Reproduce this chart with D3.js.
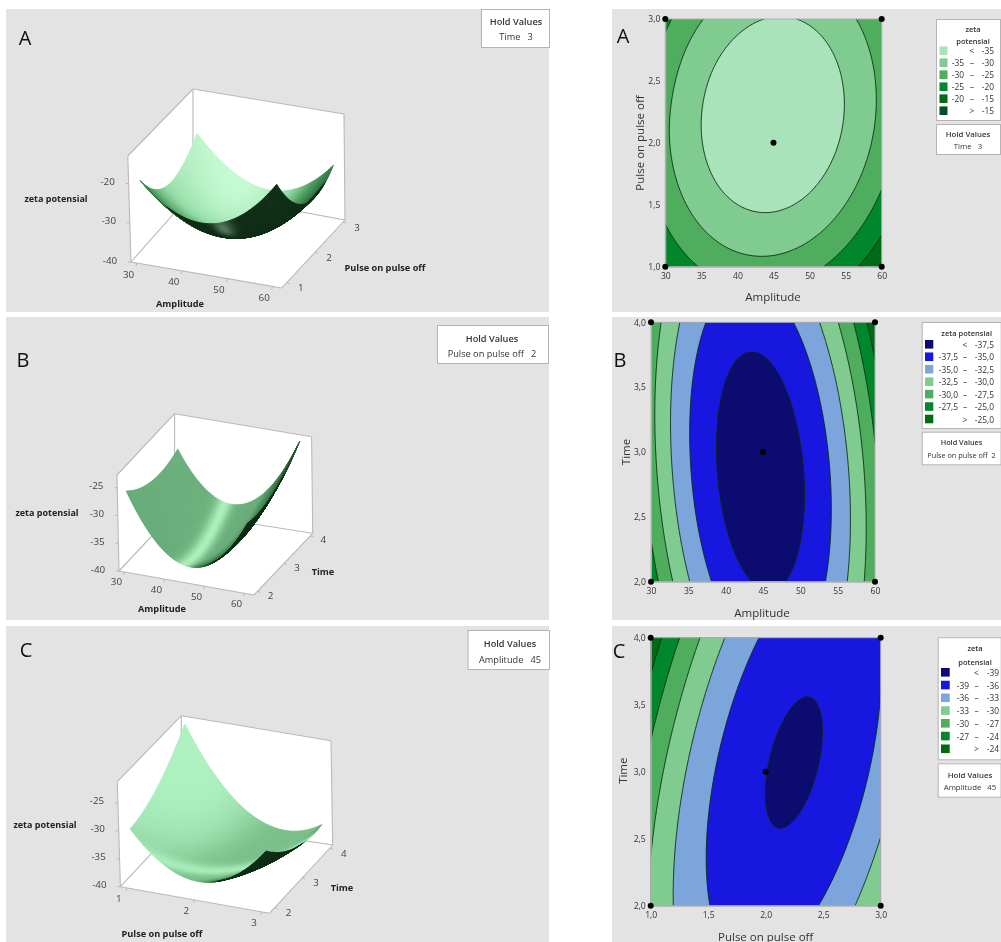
<!DOCTYPE html>
<html><head><meta charset="utf-8">
<script src="https://cdn.jsdelivr.net/npm/d3@7"></script>
<style>
html,body{margin:0;padding:0;background:#fff}
svg{display:block;filter:blur(.35px)}
text{font-family:"Open Sans",sans-serif}
</style></head><body><svg id="c" width="1001" height="942"></svg>
<script>
// ---------- values ----------
// rows: second factor ascending; columns: first factor ascending
const amplitudeGrid = [30, 37.5, 45, 52.5, 60];
const pulseGrid = [1, 1.5, 2, 2.5, 3];
const timeGrid = [2, 2.5, 3, 3.5, 4];
const zetaA = [
  [-20.30, -26.98, -28.40, -24.52, -15.36],
  [-26.55, -33.76, -35.65, -32.24, -23.54],
  [-29.17, -36.84, -39.20, -36.26, -28.04],
  [-28.08, -36.22, -39.05, -36.58, -28.82],
  [-23.80, -31.90, -35.20, -33.20, -25.91]];
const zetaB = [
  [-26.07, -34.54, -37.71, -35.58, -28.15],
  [-28.10, -36.13, -38.85, -36.27, -28.40],
  [-29.16, -36.74, -39.02, -36.00, -27.68],
  [-29.26, -36.40, -38.23, -34.76, -26.00],
  [-28.39, -35.08, -36.47, -32.56, -23.35]];
const zetaC = [
  [-30.39, -35.89, -37.66, -35.70, -30.01],
  [-29.72, -36.12, -38.79, -37.73, -32.94],
  [-28.09, -35.39, -38.96, -38.80, -34.91],
  [-25.50, -33.70, -38.17, -38.91, -35.92],
  [-21.96, -31.06, -36.43, -38.07, -35.98]];
const levelsA = [-35, -30, -25, -20, -15];
const levelsB = [-37.5, -35, -32.5, -30, -27.5, -25];
const levelsC = [-39, -36, -33, -30, -27, -24];
const coloursA = ["#a8e3b9", "#80cb90", "#4fae5e", "#00872b", "#006a14", "#064f22"];
const coloursB = ["#0c0c70", "#1717e0", "#7ba5db", "#80cb90", "#4fae5e", "#00872b", "#006a14"];
const coloursC = coloursB;
const designA = [[30, 1], [30, 3], [60, 1], [60, 3], [45, 2]];
const designB = [[30, 2], [30, 4], [60, 2], [60, 4], [45, 3]];
const designC = [[1, 2], [1, 4], [3, 2], [3, 4], [2, 3]];
const amplitudeTicks3D = [30, 40, 50, 60];
const pulseTicks3D = [1, 2, 3];
const timeTicks3D = [2, 3, 4];
const zTicksA = [-40, -30, -20];
const zTicksBC = [-40, -35, -30, -25];
const amplitudeTicks2D = [30, 35, 40, 45, 50, 55, 60];
const pulseTicksX = [1, 1.5, 2, 2.5, 3];
const pulseTicksY = [1, 1.5, 2, 2.5, 3];
const timeTicks2D = [2, 2.5, 3, 3.5, 4];

// ---------- helpers ----------
const svg = d3.select("#c");
const comma = d3.formatLocale({decimal: ",", thousands: ".", grouping: [3], currency: ["", ""], minus: "-"});
const f1 = comma.format(".1f");
const rgb = "#e3e3e3";
[[6, 9, 543, 303], [6, 317, 543, 303], [6, 626, 543, 316],
 [612, 9, 389, 303], [612, 317, 389, 303], [612, 626, 389, 316]]
  .forEach(([x, y, w, h]) => svg.append("rect").attr("x", x).attr("y", y).attr("width", w).attr("height", h).attr("fill", rgb));

function refine(grid, n) { // smooth resampling of the read table
  const cr = (p, t) => {
    const m = p.length - 1, s = t * m, i = Math.min(m - 1, Math.floor(s)), u = s - i;
    const g = k => k < 0 ? 3 * p[0] - 3 * p[1] + p[2] : k > m ? 3 * p[m] - 3 * p[m - 1] + p[m - 2] : p[k];
    const a = g(i - 1), b = g(i), c = g(i + 1), d = g(i + 2);
    return 0.5 * (2 * b + (c - a) * u + (2 * a - 5 * b + 4 * c - d) * u * u + (3 * b - a - 3 * c + d) * u * u * u);
  };
  const out = [];
  for (let j = 0; j < n; j++) {
    const tv = j / (n - 1);
    const col = grid[0].map((_, c) => cr(grid.map(r => r[c]), tv));
    const row = [];
    for (let i = 0; i < n; i++) row.push(cr(col, i / (n - 1)));
    out.push(row);
  }
  return out;
}
const label = (t, x, y, o = {}) => svg.append("text").text(t).attr("x", x).attr("y", y)
  .attr("text-anchor", o.anchor || "middle").attr("dominant-baseline", "central")
  .attr("font-size", o.size || 9).attr("font-weight", o.weight || 400)
  .attr("fill", o.fill || "#333").attr("transform", o.rot ? `rotate(${o.rot} ${x} ${y})` : null)
  .attr("xml:space", "preserve");
const box = (x, y, w, h) => svg.append("rect").attr("x", x + .5).attr("y", y + .5).attr("width", w).attr("height", h)
  .attr("fill", "#fff").attr("stroke", "#b4b4b4");

// ---------- 3D surface ----------
function surface(cfg) {
  const b = cfg.box;
  b.FRT = [b.FRB[0] + b.BRT[0] - b.BRB[0], b.FRB[1] + b.BRT[1] - b.BRB[1]];
  const lerp = (p, q, t) => [p[0] + (q[0] - p[0]) * t, p[1] + (q[1] - p[1]) * t];
  const project = (fx, fy, fz) => {
    const bot = lerp(lerp(b.FLB, b.FRB, fx), lerp(b.BLB, b.BRB, fx), fy);
    const top = lerp(lerp(b.FLT, b.FRT, fx), lerp(b.BLT, b.BRT, fx), fy);
    return lerp(bot, top, fz);
  };
  const sx = d3.scaleLinear().domain(d3.extent(cfg.xs)).range(cfg.fx);
  const sy = d3.scaleLinear().domain(d3.extent(cfg.ys)).range(cfg.fy);
  const sz = d3.scaleLinear().domain(cfg.zDomain).range([0, 1]);
  const g = svg.append("g");
  const walls = [["BLB", "BRB", "BRT", "BLT"], ["FLB", "FLT", "BLT", "BLB"], ["FLB", "FRB", "BRB", "BLB"]];
  g.selectAll("polygon").data(walls).join("polygon")
    .attr("points", d => d.map(k => b[k].join(",")).join(" ")).attr("fill", "#fff");
  const edges = [["FLB", "FLT"], ["FLT", "BLT"], ["BLT", "BRT"], ["BRT", "BRB"], ["BLT", "BLB"],
                 ["FLB", "FRB"], ["FRB", "BRB"], ["FLB", "BLB"], ["BLB", "BRB"]];
  g.selectAll("line").data(edges).join("line")
    .attr("x1", d => b[d[0]][0]).attr("y1", d => b[d[0]][1]).attr("x2", d => b[d[1]][0]).attr("y2", d => b[d[1]][1])
    .attr("stroke", "#b9b9b9").attr("stroke-width", 1.1);

  const n = 64, z = refine(cfg.grid, n);
  const X = [b.FRB[0] - b.FLB[0], b.FRB[1] - b.FLB[1]], Y = [b.BLB[0] - b.FLB[0], b.BLB[1] - b.FLB[1]],
        Z = [b.FLT[0] - b.FLB[0], b.FLT[1] - b.FLB[1]];
  // view direction: the direction in box space that projects to a point
  let v = [Y[0] * Z[1] - Z[0] * Y[1], Z[0] * X[1] - X[0] * Z[1], X[0] * Y[1] - Y[0] * X[1]];
  if (v[2] < 0) v = v.map(d => -d);
  const norm = a => { const l = Math.hypot(...a); return a.map(d => d / l); };
  v = norm(v);
  v[0] += cfg.vx || 0;
  v = norm(v);
  const xv = i => cfg.xs[0] + (cfg.xs[cfg.xs.length - 1] - cfg.xs[0]) * i / (n - 1);
  const yv = j => cfg.ys[0] + (cfg.ys[cfg.ys.length - 1] - cfg.ys[0]) * j / (n - 1);
  const dX = sx(xv(1)) - sx(xv(0)), dY = sy(yv(1)) - sy(yv(0));
  const ramp = d3.scaleLinear().domain(cfg.ramp.map(d => d[0])).range(cfg.ramp.map(d => d[1])).clamp(true);
  const underCol = "#102c15";
  const mk = l => l.axis === undefined
    ? {dir: norm([-l.s[0], -l.s[1], 1]), k: l.k, c: l.c, a: l.a || 1}
    : {axis: l.axis, at: l.at, w: l.w, c: l.c, a: l.a || 1};
  const lobes = cfg.lobes.map(mk);
  const ulobes = (cfg.under || []).map(mk);
  const dot = (a, c) => a[0] * c[0] + a[1] * c[1] + a[2] * c[2];
  const facets = [];
  for (let j = n - 2; j >= 0; j--) for (let i = 0; i < n - 1; i++) {
    const Z00 = sz(z[j][i]), Z10 = sz(z[j][i + 1]), Z01 = sz(z[j + 1][i]), Z11 = sz(z[j + 1][i + 1]);
    const fX = ((Z10 - Z00) + (Z11 - Z01)) / 2 / dX, fY = ((Z01 - Z00) + (Z11 - Z10)) / 2 / dY;
    const nrm = norm([-fX, -fY, 1]);
    const nv = dot(nrm, v);
    const shade = (c0, list) => {
      let c = c0;
      list.forEach(l => {
        const t = l.dir ? Math.pow(Math.max(0, dot(nrm, l.dir)), l.k)
                        : Math.exp(-Math.pow(((l.axis === 0 ? fX : fY) - l.at) / l.w, 2));
        c = d3.interpolateRgb(c, l.c)(l.a * t);
      });
      return c;
    };
    const col = nv >= 0 ? shade(ramp(nv), lobes) : shade(underCol, ulobes);
    facets.push({
      p: [[i, j], [i + 1, j], [i + 1, j + 1], [i, j + 1]].map(([a, c]) => project(sx(xv(a)), sy(yv(c)), sz(z[c][a]))),
      col
    });
  }
  const line = d3.line();
  g.append("g").selectAll("path").data(facets).join("path")
    .attr("d", d => line(d.p) + "Z").attr("fill", d => d.col).attr("stroke", d => d.col).attr("stroke-width", .9);

  // ticks + labels
  const tick = (p, dx, dy) => g.append("line").attr("x1", p[0]).attr("y1", p[1]).attr("x2", p[0] + dx).attr("y2", p[1] + dy)
    .attr("stroke", "#b9b9b9");
  cfg.xTicks.forEach(t => { const p = project(sx(t), 0, 0); tick(p, -1, 3);
    label(t, p[0] + cfg.xOff[0], p[1] + cfg.xOff[1], {fill: "#444", size: 9.8}); });
  cfg.yTicks.forEach(t => { const p = project(1, sy(t), 0); tick(p, 3, 1);
    label(t, p[0] + cfg.yOff[0], p[1] + cfg.yOff[1], {fill: "#444", size: 9.8}); });
  cfg.zTicks.forEach(t => { const p = project(0, 0, sz(t)); tick(p, -3, 0);
    label(t, p[0] + cfg.zOff[0], p[1] + cfg.zOff[1], {fill: "#444", size: 9.8}); });
  label("zeta potensial", cfg.zTitle[0], cfg.zTitle[1], {weight: 700, fill: "#222", size: 9});
  label(cfg.xName, cfg.xTitle[0], cfg.xTitle[1], {weight: 700, fill: "#222", size: 9.2});
  label(cfg.yName, cfg.yTitle[0], cfg.yTitle[1], {weight: 700, fill: "#222", size: 9.2});
}

surface({
  grid: zetaA, xs: amplitudeGrid, ys: pulseGrid, zDomain: [-40, -13], fx: [.04, .94], fy: [.08, .97], vx: .22,
  box: {FLB: [131, 262], FRB: [281.7, 288], BRB: [345, 220], BLB: [193, 192], FLT: [127.8, 156], BLT: [193, 89], BRT: [344, 114]},
  ramp: [[0, "#2d6b3c"], [.3, "#4f9c60"], [.6, "#92dba5"], [1, "#c6fbd2"]],
  lobes: [], under: [{s: [.45, -1.36], k: 160, c: "#6c8a72", a: .8}],
  xTicks: amplitudeTicks3D, yTicks: pulseTicks3D, zTicks: zTicksA,
  xOff: [-8.5, 11], yOff: [14, 5], zOff: [-21, -2],
  xName: "Amplitude", yName: "Pulse on pulse off", zTitle: [56, 198], xTitle: [180, 303], yTitle: [385, 267]
});
surface({
  grid: zetaB, xs: amplitudeGrid, ys: timeGrid, zDomain: [-40, -22.7], fx: [.04, .93], fy: [.06, .96],
  box: {FLB: [119, 571], FRB: [254, 595], BRB: [312.7, 533.3], BLB: [174.6, 511.7], FLT: [117, 475], BLT: [174.6, 413.7], BRT: [311.6, 436.7]},
  ramp: [[0, "#17401f"], [.14, "#3d7e4e"], [.34, "#69ad7b"], [1, "#6cb27d"]],
  lobes: [{axis: 0, at: -.3, w: .34, c: "#b0f2bf", a: .95}],
  xTicks: amplitudeTicks3D, yTicks: timeTicks3D, zTicks: zTicksBC,
  xOff: [-8, 10], yOff: [13, 4], zOff: [-21, -2],
  xName: "Amplitude", yName: "Time", zTitle: [47, 512], xTitle: [162, 608], yTitle: [323, 571]
});
surface({
  grid: zetaC, xs: pulseGrid, ys: timeGrid, zDomain: [-40, -21.2], fx: [.043, .95], fy: [.08, .955],
  box: {FLB: [120.4, 886.7], FRB: [269.4, 913.3], BRB: [332.7, 845], BLB: [181.3, 821.7], FLT: [117.3, 781.7], BLT: [181.3, 715.7], BRT: [331, 740.7]},
  ramp: [[0, "#17401f"], [.12, "#4f9a60"], [.3, "#7ac08a"], [1, "#7ac08a"]],
  lobes: [{s: [-2.34, .86], k: 9, c: "#aef2c1"}, {axis: 1, at: -.12, w: .1, c: "#aef2c1", a: .85}],
  xTicks: pulseTicks3D, yTicks: timeTicks3D, zTicks: zTicksBC,
  xOff: [-8, 11], yOff: [14, 5], zOff: [-21, -2],
  xName: "Pulse on pulse off", yName: "Time", zTitle: [45, 824], xTitle: [162, 933], yTitle: [342, 887]
});

// ---------- contour plots ----------
let clipId = 0;
function contour(cfg) {
  const xs = cfg.xs, ys = cfg.ys, n = 160;
  const x = d3.scaleLinear().domain(d3.extent(xs)).range([cfg.x0, cfg.x1]);
  const y = d3.scaleLinear().domain(d3.extent(ys)).range([cfg.y0, cfg.y1]);
  const vals = refine(cfg.grid, n).flat();
  const ix = d3.scaleLinear().domain([.5, n - .5]).range([cfg.x0, cfg.x1]);
  const iy = d3.scaleLinear().domain([.5, n - .5]).range([cfg.y0, cfg.y1]);
  const geo = d3.geoPath(d3.geoTransform({point(a, c) { this.stream.point(ix(a), iy(c)); }}));
  const id = "clip" + (++clipId);
  svg.append("clipPath").attr("id", id).append("rect").attr("x", cfg.x0).attr("y", cfg.y1)
    .attr("width", cfg.x1 - cfg.x0).attr("height", cfg.y0 - cfg.y1);
  const g = svg.append("g").attr("clip-path", `url(#${id})`);
  g.append("rect").attr("x", cfg.x0).attr("y", cfg.y1).attr("width", cfg.x1 - cfg.x0).attr("height", cfg.y0 - cfg.y1)
    .attr("fill", cfg.colours[0]);
  const polys = d3.contours().size([n, n]).thresholds(cfg.levels)(vals);
  g.selectAll("path").data(polys).join("path").attr("d", geo)
    .attr("fill", (d, i) => cfg.colours[i + 1]).attr("stroke", "#0b2a14").attr("stroke-width", .9);
  const ax = svg.append("g").attr("transform", `translate(0,${cfg.y0})`)
    .call(d3.axisBottom(x).tickValues(cfg.xTicks).tickSize(0).tickPadding(6).tickFormat(cfg.xFmt));
  const ay = svg.append("g").attr("transform", `translate(${cfg.x0},0)`)
    .call(d3.axisLeft(y).tickValues(cfg.yTicks).tickSize(0).tickPadding(5).tickFormat(f1));
  [ax, ay].forEach(a => { a.selectAll("text").attr("font-size", 8.6).attr("fill", "#333").style("font-family", '"Open Sans",sans-serif');
    a.select(".domain").attr("stroke", "#b0b0b0"); });
  svg.append("rect").attr("x", cfg.x0).attr("y", cfg.y1).attr("width", cfg.x1 - cfg.x0).attr("height", cfg.y0 - cfg.y1)
    .attr("fill", "none").attr("stroke", "#b0b0b0").attr("stroke-width", 1);
  svg.append("g").selectAll("circle").data(cfg.design).join("circle")
    .attr("cx", d => x(d[0])).attr("cy", d => y(d[1])).attr("r", 3).attr("fill", "#000");
  label(cfg.xName, cfg.xT[0], cfg.xT[1], {size: 11.5, fill: "#333"});
  label(cfg.yName, cfg.yT[0], cfg.yT[1], {size: 11.5, fill: "#333", rot: -90});
}
contour({grid: zetaA, xs: amplitudeGrid, ys: pulseGrid, x0: 665.3, x1: 881.7, y0: 266.7, y1: 19, levels: levelsA, colours: coloursA,
  xTicks: amplitudeTicks2D, yTicks: pulseTicksY, xFmt: d3.format("d"), design: designA,
  xName: "Amplitude", yName: "Pulse on pulse off", xT: [773, 296], yT: [639, 143]});
contour({grid: zetaB, xs: amplitudeGrid, ys: timeGrid, x0: 651, x1: 875, y0: 581.7, y1: 322.3, levels: levelsB, colours: coloursB,
  xTicks: amplitudeTicks2D, yTicks: timeTicks2D, xFmt: d3.format("d"), design: designB,
  xName: "Amplitude", yName: "Time", xT: [762, 612], yT: [625, 452]});
contour({grid: zetaC, xs: pulseGrid, ys: timeGrid, x0: 650.7, x1: 880.7, y0: 905.7, y1: 637.7, levels: levelsC, colours: coloursC,
  xTicks: pulseTicksX, yTicks: timeTicks2D, xFmt: f1, design: designC,
  xName: "Pulse on pulse off", yName: "Time", xT: [765.7, 936], yT: [623, 770.7]});

// ---------- legends ----------
function legend(c) {
  box(c.x, c.y, c.w, c.h);
  c.title.forEach((t, i) => label(t, c.tx, c.ty + i * c.tdy, {size: 7.5, weight: 600}));
  const fmt = c.fmt;
  const rows = c.colours.map((col, i) => ({col, i}));
  const n = rows.length;
  svg.append("g").selectAll("rect").data(rows).join("rect")
    .attr("x", c.sx).attr("y", d => c.r0 + d.i * c.dr - 4.3).attr("width", c.sw).attr("height", 8.6).attr("fill", d => d.col);
  rows.forEach(({i}) => {
    const yy = c.r0 + i * c.dr;
    if (i === 0) { label("<", c.dash, yy, {size: 8.4}); label(fmt(c.levels[0]), c.hi, yy, {size: 8.4, anchor: "end"}); }
    else if (i === n - 1) { label(">", c.dash, yy, {size: 8.4}); label(fmt(c.levels[n - 2]), c.hi, yy, {size: 8.4, anchor: "end"}); }
    else {
      label(fmt(c.levels[i - 1]), c.lo, yy, {size: 8.4, anchor: "end"});
      label("–", c.dash, yy, {size: 8.4});
      label(fmt(c.levels[i]), c.hi, yy, {size: 8.4, anchor: "end"});
    }
  });
}
const fInt = comma.format("d");
legend({x: 936, y: 19, w: 64, h: 101, title: ["zeta", "potensial"], tx: 973, ty: 29, tdy: 11.7, sx: 939.5, sw: 8,
  r0: 50.7, dr: 12, lo: 964, dash: 972, hi: 994, levels: levelsA, colours: coloursA, fmt: fInt});
legend({x: 921.7, y: 322, w: 79, h: 106, title: ["zeta potensial"], tx: 966.7, ty: 332.7, tdy: 0, sx: 925, sw: 8.3,
  r0: 344.3, dr: 12.45, lo: 958, dash: 965, hi: 994, levels: levelsB, colours: coloursB, fmt: f1});
legend({x: 937.7, y: 637.3, w: 63, h: 122, title: ["zeta", "potensial"], tx: 975, ty: 648.3, tdy: 13.2, sx: 941, sw: 8.7,
  r0: 672.3, dr: 12.75, lo: 969, dash: 976.5, hi: 999, levels: levelsC, colours: coloursC, fmt: fInt});

// ---------- hold-value boxes and panel letters ----------
const holds = [
  [481, 9, 68, 38, 516, 21.5, 36.5, "Time   3", 9.2],
  [437, 325, 111, 38, 492, 338, 353, "Pulse on pulse off   2", 9.2],
  [467.6, 630, 81.4, 39, 510, 643, 659, "Amplitude   45", 9.2],
  [936, 124, 64, 30, 968, 133.5, 146, "Time   3", 7.8],
  [921.7, 431.7, 78.8, 32.6, 961.5, 442.3, 455.3, "Pulse on pulse off  2", 7.3],
  [937.7, 763.3, 62.8, 33.4, 970, 775, 787.3, "Amplitude   45", 7.8]
];
holds.forEach(([x, y, w, h, tx, t1, t2, s, fs]) => {
  box(x, y, w, h);
  label("Hold Values", tx, t1, {size: fs, weight: 600});
  label(s, tx, t2, {size: fs, weight: 500});
});
[["A", 25, 37], ["B", 23, 359], ["C", 26, 649], ["A", 623, 35], ["B", 620, 359], ["C", 619, 650]]
  .forEach(([t, x, y]) => label(t, x, y, {size: 20, fill: "#111"}));
</script></body></html>
